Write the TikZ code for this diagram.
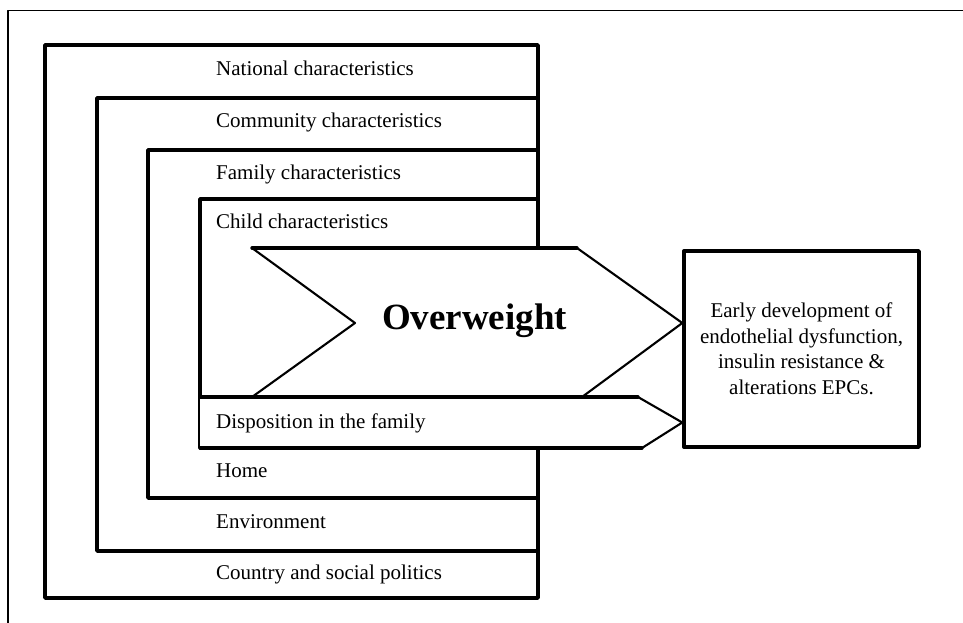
\documentclass[tikz,border=0pt]{standalone}
\usepackage{fontspec}
\setmainfont{Liberation Serif}
\usetikzlibrary{positioning}

\tikzset{
  layer/.style={draw, line width=3.4pt, fill=white},
  edge/.style={line width=3.4pt},
  slant/.style={line width=2.1pt},
  band/.style={anchor=west, inner sep=0pt, font=\fontsize{21}{25}\selectfont,
    text height=14pt, text depth=4pt},
}

\begin{document}
\begin{tikzpicture}[x=1pt, y=-1pt, line cap=round, line join=round]
  \useasboundingbox (0,0) rectangle (963,623);
  \draw[line width=1.5pt] (963,10.5) -- (8,10.5) -- (8,623);

  % nested layers
  \draw[layer] (45,45) rectangle (538,598);
  \draw[layer] (97,98) rectangle (538,551);
  \draw[layer] (148,150) rectangle (538,498);
  \draw[layer] (200,199) rectangle (538,448);

  % outcome box
  \node[draw, line width=3.4pt, minimum width=235pt, minimum height=196pt,
    align=center, font=\fontsize{21}{25.5}\selectfont] (result) at (801.5,349)
    {Early development of\\endothelial dysfunction,\\insulin resistance \&\\alterations EPCs.};

  % disposition arrow
  \fill[white] (200,397) -- (638,397) -- (result.west |- 0,422.5) -- (642,448) -- (200,448) -- cycle;
  \draw[edge] (200,397) -- (638,397);
  \draw[edge] (200,448) -- (642,448);
  \draw[slant] (638,397) -- (result.west |- 0,422.5) -- (642,448);

  % overweight arrow
  \fill[white] (252,248) -- (577,248) -- (result.west |- 0,323) -- (582,397)
    -- (252,397) -- (355,323) -- cycle;
  \draw[edge] (252,248) -- (577,248);
  \draw[edge] (252,397) -- (582,397);
  \draw[slant] (577,248) -- (result.west |- 0,323) -- (582,397);
  \draw[slant] (252,248) -- (355,323) -- (252,397);
  \node[font=\fontsize{37}{40}\bfseries] (overweight) at (474.5,321) {Overweight};

  % labels
  \node[band] (national) at (216,71) {National characteristics};
  \node[band] (community) at (216,123) {Community characteristics};
  \node[band] (family) at (216,174) {Family characteristics};
  \node[band] (child) at (216,223) {Child characteristics};
  \node[band] (disposition) at (216,423) {Disposition in the family};
  \node[band] (home) at (216,472) {Home};
  \node[band] (environment) at (216,523) {Environment};
  \node[band] (country) at (216,574) {Country and social politics};
\end{tikzpicture}
\end{document}
